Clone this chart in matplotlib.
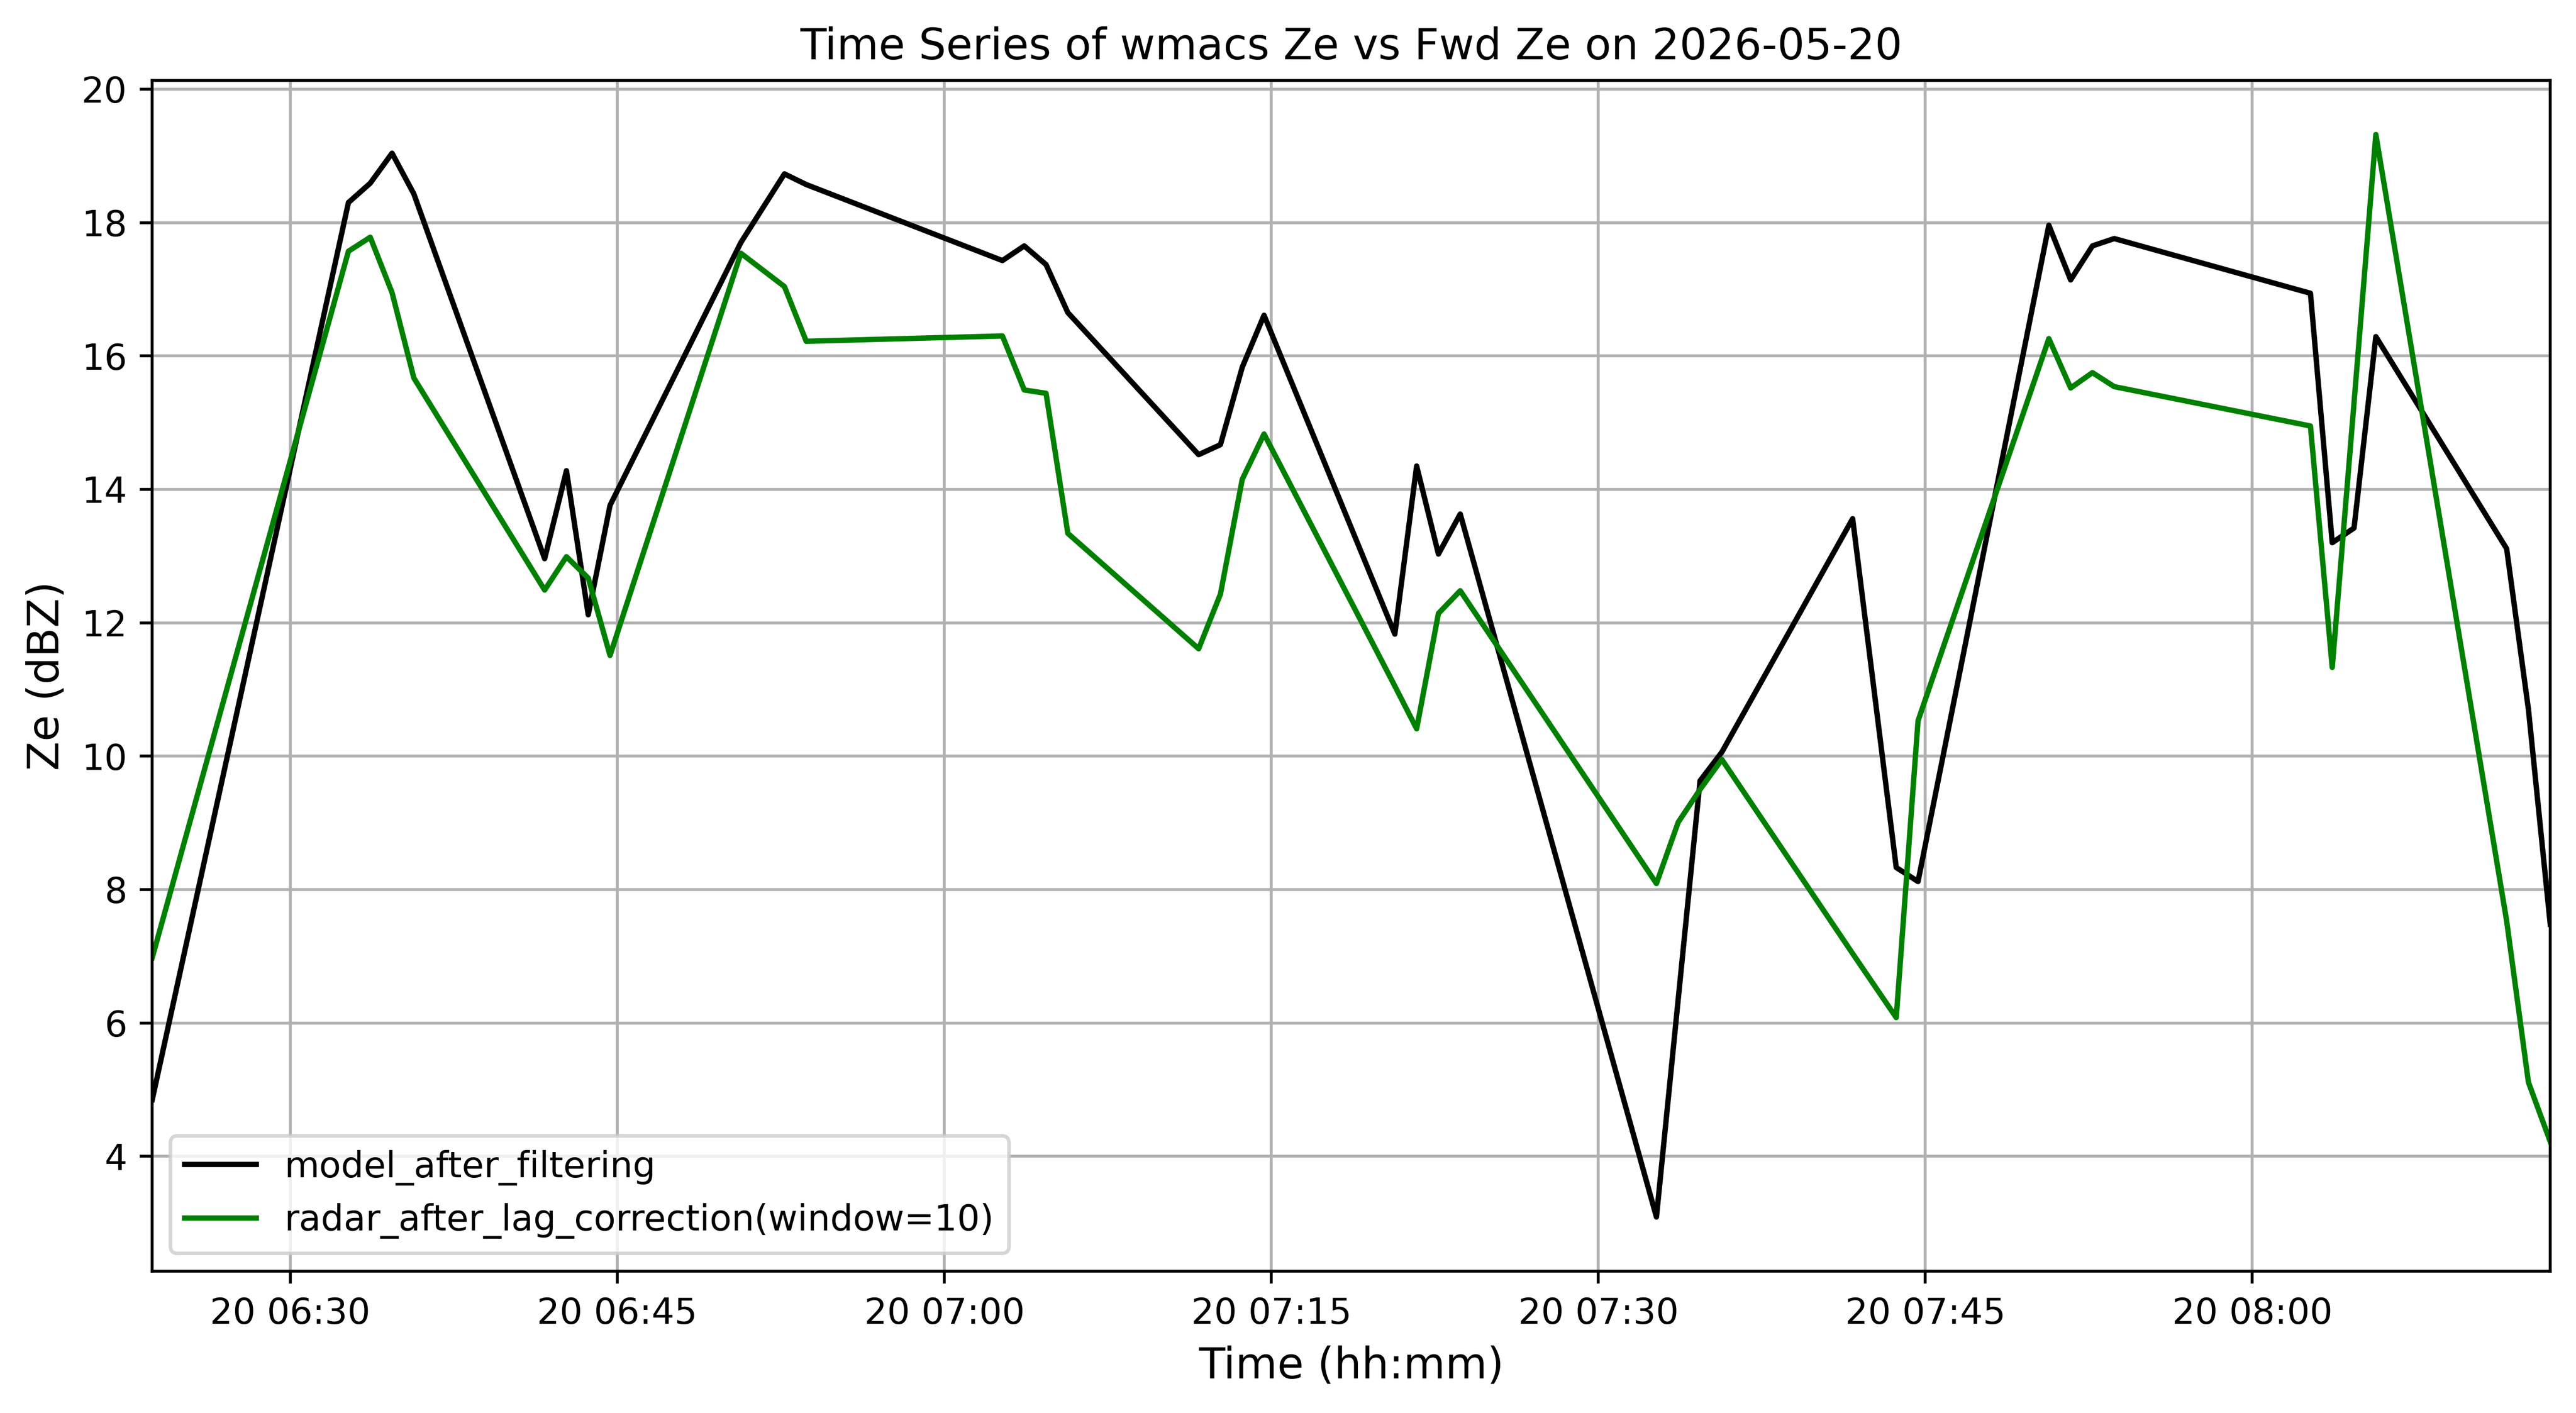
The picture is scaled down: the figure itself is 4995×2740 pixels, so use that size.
import numpy as np
import pandas as pd
import matplotlib
matplotlib.use('Agg')
import matplotlib.pyplot as plt

# sample times (every point has both series)
times = ['06:23:40', '06:32:40', '06:33:40', '06:34:40', '06:35:40',
         '06:41:40', '06:42:40', '06:43:40', '06:44:40', '06:50:40',
         '06:52:40', '06:53:40', '07:02:40', '07:03:40', '07:04:40',
         '07:05:40', '07:11:40', '07:12:40', '07:13:40', '07:14:40',
         '07:20:40', '07:21:40', '07:22:40', '07:23:40', '07:32:40',
         '07:33:40', '07:34:40', '07:35:40', '07:41:40', '07:43:40',
         '07:44:40', '07:50:40', '07:51:40', '07:52:40', '07:53:40',
         '08:02:40', '08:03:40', '08:04:40', '08:05:40', '08:11:40',
         '08:12:40', '08:13:40']

model_ze = [4.85, 18.30, 18.59, 19.04, 18.43,
            12.96, 14.28, 12.12, 13.76, 17.70,
            18.73, 18.57, 17.43, 17.65, 17.37,
            16.65, 14.52, 14.67, 15.83, 16.61,
            11.83, 14.35, 13.03, 13.63, 3.09,
            6.36, 9.63, 10.06, 13.56, 8.33,
            8.12, 17.96, 17.14, 17.65, 17.76,
            16.94, 13.20, 13.42, 16.29, 13.11,
            10.70, 7.48]

radar_ze = [6.98, 17.57, 17.78, 16.95, 15.67,
            12.49, 12.99, 12.67, 11.51, 17.54,
            17.04, 16.22, 16.30, 15.49, 15.44,
            13.34, 11.61, 12.43, 14.15, 14.83,
            11.05, 10.41, 12.14, 12.48, 8.09,
            9.01, 9.50, 9.95, 7.04, 6.08,
            10.53, 16.26, 15.52, 15.75, 15.54,
            14.95, 11.33, 15.30, 19.32, 7.53,
            5.11, 4.22]

date_str = '2026-05-20'
t = pd.to_datetime([f'{date_str} {s}' for s in times])

fig = plt.figure(figsize=(9.99, 5.48), dpi=500)
ax = fig.add_subplot(111)
fig.subplots_adjust(left=0.0591, right=0.99, bottom=0.1004, top=0.9431)

ax.plot(t, model_ze, color='black', label='model_after_filtering')
ax.plot(t, radar_ze, color='green', label='radar_after_lag_correction(window=10)')

ax.set_xlim(t[0], t[-1])
ax.set_title(f'Time Series of wmacs Ze vs Fwd Ze on {date_str}')
ax.set_xlabel('Time (hh:mm)', fontsize=12)
ax.set_ylabel('Ze (dBZ)', fontsize=12)
ax.grid(True)
ax.legend(loc='lower left')

fig.savefig('out.png', dpi=500)
